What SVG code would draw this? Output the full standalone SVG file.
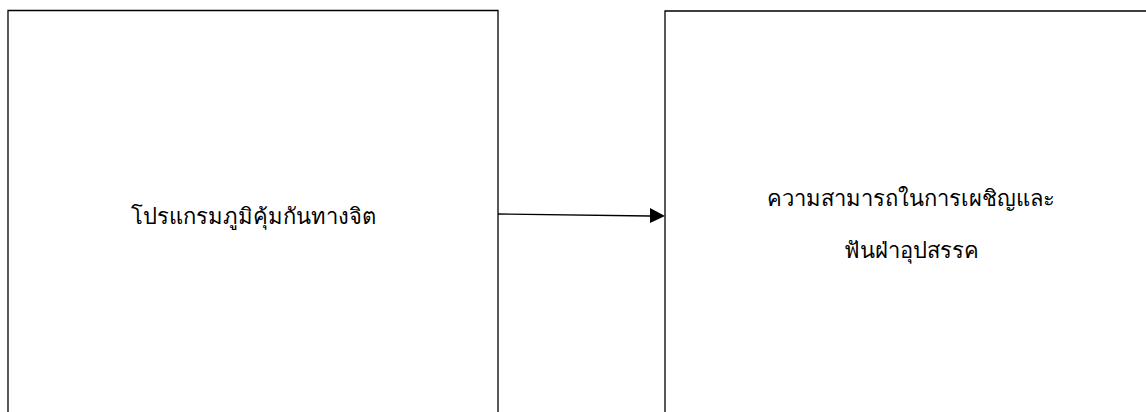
<svg xmlns="http://www.w3.org/2000/svg" width="1146" height="412" viewBox="0 0 1146 412">
<style>
.box{fill:none;stroke:#000;stroke-width:1.3}
.t{font-family:"Noto Sans","DejaVu Sans",sans-serif;font-size:22px;fill:#000;text-anchor:middle}
.c{stroke:#000;stroke-width:1.3;fill:none}
</style>
<rect width="1146" height="412" fill="#fff"/>
<g id="node-left">
<path class="box" d="M8,412 V10.5 H498 V412"/>
<text class="t" x="253" y="224">โปรแกรมภูมิคุ้มกันทางจิต</text>
</g>
<g id="node-right">
<path class="box" d="M665,412 V11 H1146"/>
<text class="t" x="911" y="206">ความสามารถในการเผชิญและ</text>
<text class="t" x="911" y="258">ฟันฝ่าอุปสรรค</text>
</g>
<g id="connectors">
<line class="c" x1="498" y1="214" x2="650" y2="216"/>
<path d="M650,208 L665,216 L650,223 z" fill="#000"/>
</g>
</svg>
